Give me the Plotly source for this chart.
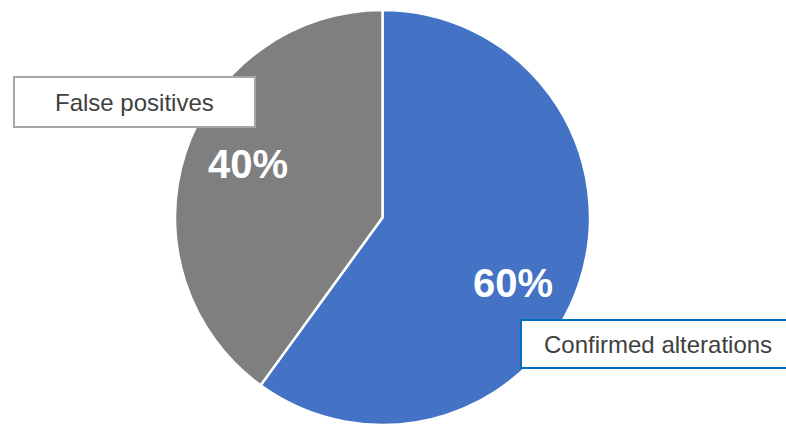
import plotly.graph_objects as go

labels = ["Confirmed alterations", "False positives"]
values = [60, 40]
colors = ["#4472C4", "#7F7F7F"]

W, H = 786, 425

def px(x):
    return x / W

def py(y):
    return 1 - y / H

total = sum(values)
pct = [f"{round(v / total * 100)}%" for v in values]

fig = go.Figure(go.Pie(
    labels=labels,
    values=values,
    sort=False,
    direction="clockwise",
    rotation=0,
    marker=dict(colors=colors, line=dict(color="white", width=2.5)),
    textinfo="none",
    hoverinfo="label+percent",
    showlegend=False,
    domain=dict(x=[px(175), px(590)], y=[py(425), py(10)]),
))

# callout boxes
boxes = [
    dict(x0=14, x1=255, y0=77, y1=127, color="#A6A6A6"),
    dict(x0=521, x1=800, y0=320, y1=368, color="#0070C0"),
]
shapes = []
for b in boxes:
    shapes.append(dict(type="rect", xref="paper", yref="paper",
                       x0=px(b["x0"]), x1=px(b["x1"]), y0=py(b["y1"]), y1=py(b["y0"]),
                       line=dict(color=b["color"], width=2), fillcolor="white", layer="above"))

font_label = dict(family="Liberation Sans, Arial", size=24, color="#404040")
font_pct = dict(family="Liberation Sans, Arial", size=40, color="white")
common = dict(xref="paper", yref="paper", showarrow=False, xanchor="center", yanchor="middle")

annotations = [
    dict(text=labels[1], x=px(134.5), y=py(102), font=font_label, **common),
    dict(text=labels[0], x=px(658), y=py(344), font=font_label, **common),
    dict(text=f"<b>{pct[0]}</b>", x=px(513), y=py(283), font=font_pct, **common),
    dict(text=f"<b>{pct[1]}</b>", x=px(248), y=py(164), font=font_pct, **common),
]

fig.update_layout(
    width=W, height=H,
    margin=dict(l=0, r=0, t=0, b=0),
    paper_bgcolor="white",
    plot_bgcolor="white",
    shapes=shapes,
    annotations=annotations,
)

fig.write_html("out.html", config={"displayModeBar": False},
               post_script="document.body.style.margin='0';")
